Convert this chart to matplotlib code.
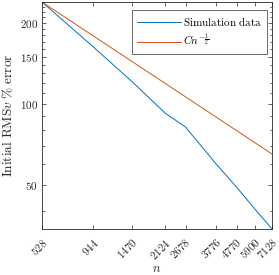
import matplotlib
matplotlib.use('Agg')
import matplotlib.pyplot as plt
from matplotlib.ticker import FixedLocator, FixedFormatter, NullFormatter
import matplotlib.transforms as mtransforms
import numpy as np

plt.rcParams['mathtext.fontset'] = 'cm'
plt.rcParams['font.family'] = 'serif'

# data
n = [528, 944, 1470, 2124, 2678, 3776, 4770, 5900, 7128]
rms_err = [239.5, 163.0, 120.7, 92.6, 82.1, 60.0, 49.1, 40.5, 34.3]
y_major = [50, 100, 150, 200]
y_minor = [40, 60, 70, 80, 90, 110, 120, 130, 140, 160, 170, 180, 190, 210, 220, 230]

n_arr = np.array(n, dtype=float)
C = rms_err[0] * np.sqrt(n_arr[0])
fit = C / np.sqrt(n_arr)

blue = '#0072BD'
orange = '#D95319'
axcol = '#262626'

fig = plt.figure(figsize=(2.79, 2.75), dpi=100)
ax = fig.add_axes([0.1505, 0.1673, 0.8245, 0.8254])

ax.plot(n, rms_err, color=blue, lw=0.7, label=r'$\mathrm{Simulation\ data}$')
ax.plot(n, fit, color=orange, lw=0.7, label=r'$Cn^{-\frac{1}{2}}$')

ax.set_xscale('log')
ax.set_yscale('log')
ax.set_xlim(n[0], n[-1])
ax.set_ylim(min(rms_err), max(rms_err))

ax.xaxis.set_major_locator(FixedLocator(n))
ax.xaxis.set_major_formatter(FixedFormatter(['$%d$' % v for v in n]))
ax.xaxis.set_minor_locator(FixedLocator([]))
ax.xaxis.set_minor_formatter(NullFormatter())
ax.yaxis.set_major_locator(FixedLocator(y_major))
ax.yaxis.set_major_formatter(FixedFormatter(['$%d$' % v for v in y_major]))
ax.yaxis.set_minor_locator(FixedLocator(y_minor))
ax.yaxis.set_minor_formatter(NullFormatter())

ax.tick_params(which='both', direction='in', top=True, right=True,
               colors=axcol, labelsize=8, width=0.5, pad=3)
ax.tick_params(which='major', length=3)
ax.tick_params(which='minor', length=1.8)
shift = mtransforms.ScaledTranslation(-1 / 100, -3 / 100, fig.dpi_scale_trans)
for lbl in ax.get_xticklabels():
    lbl.set_rotation(45)
    lbl.set_ha('right')
    lbl.set_rotation_mode('anchor')
    lbl.set_transform(lbl.get_transform() + shift)
for s in ax.spines.values():
    s.set_color(axcol)
    s.set_linewidth(0.6)

ax.set_xlabel(r'$n$', fontsize=9, color=axcol, labelpad=0)
ax.set_ylabel(r'$\mathrm{Initial\ RMS}v\ \%\ \mathrm{error}$', fontsize=9.6, color=axcol, labelpad=3)

leg = ax.legend(loc='upper right', bbox_to_anchor=(0.978, 0.965), borderaxespad=0,
                fontsize=8, frameon=True, fancybox=False, edgecolor=axcol,
                handlelength=3.9, borderpad=0.45, labelspacing=0.35, handletextpad=0.2)
leg.get_frame().set_linewidth(0.6)

fig.savefig('out.png', dpi=100)
